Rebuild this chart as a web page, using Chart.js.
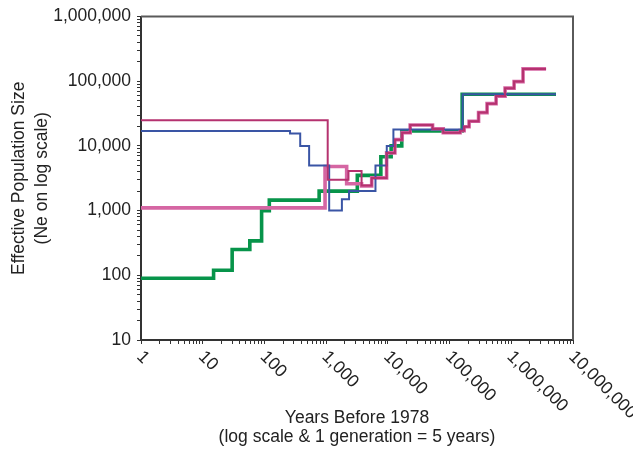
<!DOCTYPE html>
<html>
<head>
<meta charset="utf-8">
<script src="https://cdn.jsdelivr.net/npm/chart.js@4/dist/chart.umd.min.js"></script>
<style>
  html, body { margin: 0; padding: 0; background: #ffffff; }
  #wrap { width: 633px; height: 452px; }
</style>
</head>
<body>
<div id="wrap"><canvas id="chart" width="633" height="452"></canvas></div>
<script>
// Effective population size through time (step histories), log-log axes.

// Tick labels
const xDecades = [1, 10, 100, 1000, 10000, 100000, 1000000, 10000000];
const xTickLabels = ['1', '10', '100', '1,000', '10,000', '100,000', '1,000,000', '10,000,000'];
const yDecades = [10, 100, 1000, 10000, 100000, 1000000];
const yTickLabels = ['10', '100', '1,000', '10,000', '100,000', '1,000,000'];

// Green history: start year of each step and its Ne
const greenYears = [1, 15, 30, 58, 90, 120, 770, 3200, 7700, 11300, 16800, 160000, 5300000];
const greenNe    = [90, 120, 250, 340, 1000, 1450, 2000, 3500, 6800, 10000, 17000, 63000, 63000];

// Blue history
const blueYears = [1, 260, 380, 530, 1120, 1800, 2350, 6300, 9600, 12300, 163000, 5300000];
const blueNe    = [17000, 15500, 10000, 5000, 1000, 1500, 2000, 5000, 10000, 18000, 63000, 63000];

// Magenta history
const magentaYears = [1, 1060, 2300, 3750, 5470, 9550, 13000, 17000, 23000, 53000, 79000, 148000,
                      172000, 207000, 295000, 405000, 567000, 793000, 1110000, 1550000, 3660000];
const magentaNe    = [25000, 3000, 4100, 2450, 3200, 7800, 12500, 16000, 21000, 18300, 16000, 17200,
                      19800, 24100, 32700, 45000, 58800, 78100, 98600, 155000, 155000];

// Pink history
const pinkYears = [1, 960, 2150, 3750, 5470, 9550, 13000, 17000, 23000, 53000, 79000, 148000,
                   172000, 207000, 295000, 405000, 567000, 793000, 1110000, 1550000, 3660000];
const pinkNe    = [1100, 4800, 2600, 2400, 3200, 7800, 12500, 16000, 21000, 18300, 16000, 17200,
                   19800, 24100, 32700, 45000, 58800, 78100, 98600, 155000, 155000];

const FONT = '"Liberation Sans", Arial, Helvetica, sans-serif';
const FS = 17.5;
Chart.defaults.font.family = FONT;
Chart.defaults.color = '#222';

function pts(xs, ys) { return xs.map((x, i) => ({ x: x, y: ys[i] })); }

function logTicks(min, max) {
  const out = [];
  for (let d = min; d < max; d *= 10) {
    for (let k = 1; k <= 9; k++) out.push({ value: d * k });
  }
  out.push({ value: max });
  return out;
}

function series(data, color, width, order) {
  return {
    data: data, borderColor: color, backgroundColor: color, borderWidth: width,
    stepped: true, pointRadius: 0, fill: false, order: order,
    borderCapStyle: 'butt', borderJoinStyle: 'miter', tension: 0
  };
}

// Plot frame (top/right) and slanted year labels
const frameAndLabels = {
  id: 'frameAndLabels',
  afterDraw(chart) {
    const { ctx, chartArea: a } = chart;
    const xs = chart.scales.x;
    ctx.save();
    ctx.strokeStyle = '#5a5a5a';
    ctx.lineWidth = 2;
    ctx.beginPath();
    ctx.moveTo(a.left, a.top);
    ctx.lineTo(a.right, a.top);
    ctx.lineTo(a.right, a.bottom);
    ctx.stroke();

    ctx.fillStyle = '#222';
    ctx.font = FS + 'px ' + FONT;
    ctx.textAlign = 'left';
    ctx.textBaseline = 'middle';
    xDecades.forEach((v, i) => {
      const px = xs.getPixelForValue(v);
      ctx.save();
      ctx.translate(px - 1.5, a.bottom + 14);
      ctx.rotate(Math.PI / 4);
      ctx.fillText(xTickLabels[i], 0, 0);
      ctx.restore();
    });
    ctx.restore();
  }
};

new Chart(document.getElementById('chart'), {
  type: 'line',
  data: {
    datasets: [
      series(pts(magentaYears, magentaNe), '#b5326f', 2, 0),
      series(pts(blueYears, blueNe), '#3a55a5', 2, 1),
      series(pts(pinkYears, pinkNe), '#d566a3', 3.6, 2),
      series(pts(greenYears, greenNe), '#07944a', 3.6, 3)
    ]
  },
  options: {
    responsive: false,
    animation: false,
    events: [],
    layout: { padding: { top: 16, right: 60, bottom: 0, left: 0 } },
    plugins: { legend: { display: false }, tooltip: { enabled: false } },
    scales: {
      x: {
        type: 'logarithmic',
        min: 1, max: 10000000,
        afterBuildTicks: (s) => { s.ticks = logTicks(1, 10000000); },
        afterFit: (s) => { s.height = 112; },
        ticks: { display: false, autoSkip: false },
        grid: { display: true, drawOnChartArea: false, drawTicks: true, tickLength: 4, color: '#333', lineWidth: 1 },
        border: { display: true, color: '#333', width: 2 },
        title: {
          display: true,
          text: ['Years Before 1978', '(log scale & 1 generation = 5 years)'],
          color: '#222',
          font: { size: FS, lineHeight: 1.09 },
          padding: { top: 0, bottom: 5 }
        }
      },
      y: {
        type: 'logarithmic',
        min: 10, max: 1000000,
        afterBuildTicks: (s) => { s.ticks = logTicks(10, 1000000); },
        afterFit: (s) => { s.width = 141; },
        ticks: {
          autoSkip: false,
          padding: 6,
          color: '#222',
          font: { size: FS },
          callback: (v) => { const i = yDecades.indexOf(v); return i >= 0 ? yTickLabels[i] : ''; }
        },
        grid: { display: true, drawOnChartArea: false, drawTicks: true, tickLength: 4, color: '#333', lineWidth: 1 },
        border: { display: true, color: '#333', width: 2 },
        title: {
          display: true,
          text: ['Effective Population Size', '(Ne on log scale)'],
          color: '#222',
          font: { size: FS, lineHeight: 1.3 },
          padding: { top: 8, bottom: 0 }
        }
      }
    }
  },
  plugins: [frameAndLabels]
});
</script>
</body>
</html>
